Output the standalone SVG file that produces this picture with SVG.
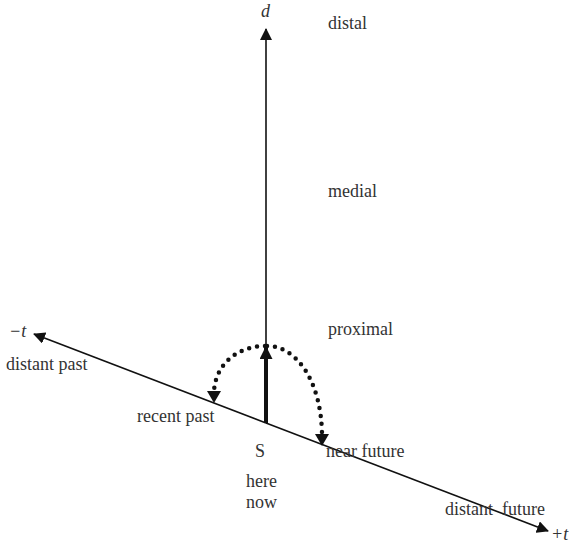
<svg xmlns="http://www.w3.org/2000/svg" width="569" height="544" viewBox="0 0 569 544">
<style>
text{font-family:"Liberation Serif","Times New Roman",serif;font-size:18px;fill:#333}
.it{font-style:italic}
.ax{stroke:#111;stroke-width:1.6;fill:none}
.dot{stroke:#111;stroke-width:4.5;fill:none;stroke-linecap:round;stroke-dasharray:0 8}
</style>
<defs>
<marker id="ah" viewBox="0 0 12 12" refX="11" refY="6" markerWidth="12" markerHeight="12" markerUnits="userSpaceOnUse" orient="auto">
<path d="M0,0 L12,6 L0,12 z" fill="#111"/>
</marker>
<marker id="ahb" viewBox="0 0 12 12" refX="11" refY="6" markerWidth="13" markerHeight="13" markerUnits="userSpaceOnUse" orient="auto">
<path d="M0,0 L12,6 L0,12 z" fill="#111"/>
</marker>
</defs>
<rect width="569" height="544" fill="#fff"/>
<g id="connectors">
<line class="ax" x1="266" y1="350" x2="266" y2="29" marker-end="url(#ah)"/>
<line class="ax" x1="266" y1="423" x2="34" y2="334" marker-end="url(#ah)"/>
<line class="ax" x1="266" y1="423" x2="548" y2="531" marker-end="url(#ah)"/>
<line x1="266" y1="423" x2="266" y2="347" stroke="#111" stroke-width="4" marker-end="url(#ahb)"/>
<path class="dot" d="M265,346 C240,346 216,362 214,391"/>
<path class="dot" d="M267,346 C296,346 321,380 322,434"/>
<path d="M207,391 L221,391 L214,403 z" fill="#111"/>
<path d="M315,434 L329,434 L322,446 z" fill="#111"/>
</g>
<g id="d-axis"><text class="it" x="261" y="17">d</text></g>
<g id="distal"><text x="328" y="29">distal</text></g>
<g id="medial"><text x="328" y="197">medial</text></g>
<g id="proximal"><text x="328" y="335">proximal</text></g>
<g id="minus-t"><text class="it" x="9" y="337">−t</text></g>
<g id="distant-past"><text x="6" y="370">distant past</text></g>
<g id="recent-past"><text x="137" y="422">recent past</text></g>
<g id="S"><text x="255" y="457" font-size="21">S</text></g>
<g id="here-now"><text x="246" y="487">here</text><text x="246" y="508">now</text></g>
<g id="near-future"><text x="326" y="457">near future</text></g>
<g id="distant-future"><text x="445" y="515" xml:space="preserve">distant  future</text></g>
<g id="plus-t"><text class="it" x="551" y="540" font-size="16">+t</text></g>
</svg>
